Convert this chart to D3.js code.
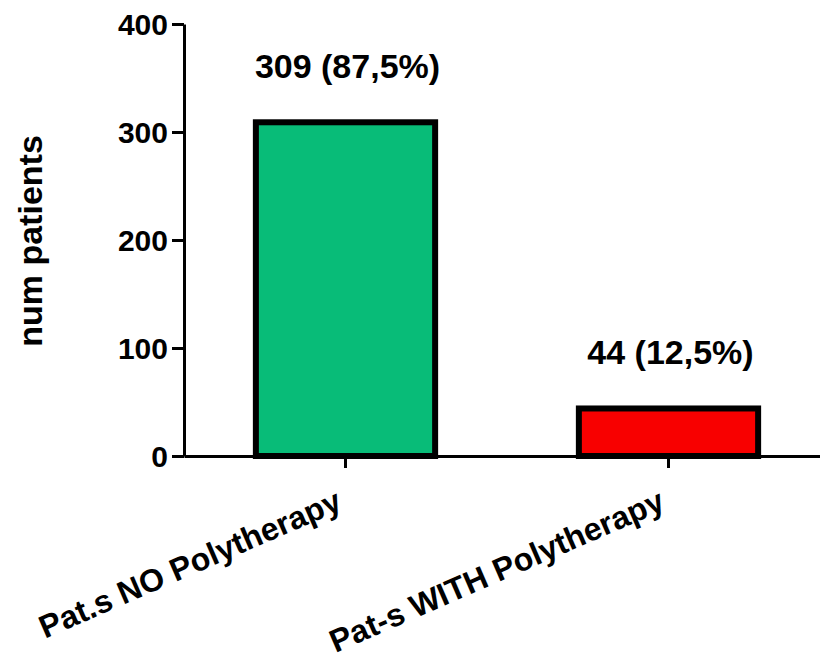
<!DOCTYPE html>
<html>
<head>
<meta charset="utf-8">
<script src="https://cdn.jsdelivr.net/npm/d3@7"></script>
<style>
  html, body { margin: 0; padding: 0; background: #fff; }
  text { font-family: "Liberation Sans", Arial, Helvetica, sans-serif; font-weight: bold; fill: #000; }
</style>
</head>
<body>
<script>
const categories = ["Pat.s NO Polytherapy", "Pat-s WITH Polytherapy"];
const values = [309, 44];
const valueLabels = ["309 (87,5%)", "44 (12,5%)"];
const barColors = ["#08bc78", "#f80000"];
const yTicks = [0, 100, 200, 300, 400];
const yTitle = "num patients";

const W = 820, H = 663;
const svg = d3.select("body").append("svg").attr("width", W).attr("height", H);
svg.append("rect").attr("width", W).attr("height", H).attr("fill", "#fff");

const y = d3.scaleLinear().domain([0, 400]).range([456, 24]);
const x = d3.scaleBand().domain(categories).range([184, 830]).paddingInner(0.445).paddingOuter(0.2225);

// bars
svg.selectAll("rect.bar").data(values).enter().append("rect")
  .attr("class", "bar")
  .attr("x", (d, i) => x(categories[i]))
  .attr("width", x.bandwidth())
  .attr("y", d => y(d))
  .attr("height", d => y(0) - y(d))
  .attr("fill", (d, i) => barColors[i])
  .attr("stroke", "#000")
  .attr("stroke-width", 6);

// y axis
const yAxis = svg.append("g").attr("transform", "translate(184,0)")
  .call(d3.axisLeft(y).tickValues(yTicks).tickSize(12).tickSizeOuter(0).tickPadding(4));
yAxis.select(".domain").attr("stroke", "#000").attr("stroke-width", 3);
yAxis.selectAll(".tick line").attr("stroke", "#000").attr("stroke-width", 3);
yAxis.selectAll(".tick text").style("font-size", "30px").attr("dy", "0.36em");

// x axis
const xAxis = svg.append("g").attr("transform", "translate(0,456)")
  .call(d3.axisBottom(x).tickSize(12).tickSizeOuter(0).tickFormat(""));
xAxis.select(".domain").attr("stroke", "#000").attr("stroke-width", 3);
xAxis.selectAll(".tick line").attr("stroke", "#000").attr("stroke-width", 3);

// category labels
svg.selectAll("text.cat").data(categories).enter().append("text")
  .attr("class", "cat")
  .attr("text-anchor", "end")
  .attr("transform", d => `translate(${x(d) + x.bandwidth() / 2 - 2},509) rotate(-23.5)`)
  .style("font-size", "32px")
  .text(d => d);

// value labels
svg.selectAll("text.val").data(values).enter().append("text")
  .attr("class", "val")
  .attr("text-anchor", "middle")
  .attr("x", (d, i) => x(categories[i]) + x.bandwidth() / 2 + 2)
  .attr("y", d => y(d) - 44)
  .style("font-size", "34px")
  .text((d, i) => valueLabels[i]);

// y title
svg.append("text")
  .attr("text-anchor", "middle")
  .attr("transform", "translate(42,241) rotate(-90)")
  .style("font-size", "34px")
  .text(yTitle);
</script>
</body>
</html>
